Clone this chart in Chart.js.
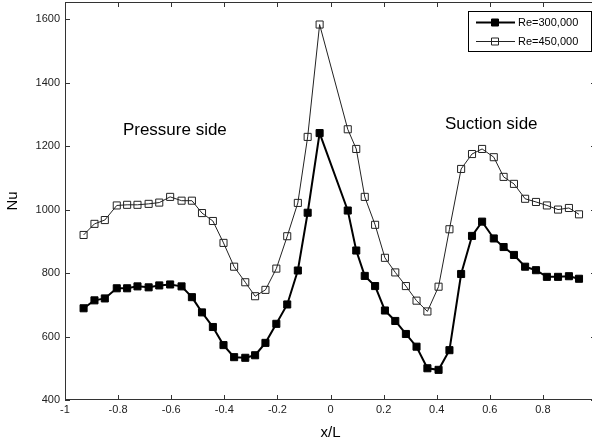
<!DOCTYPE html>
<html>
<head>
<meta charset="utf-8">
<script src="https://cdn.jsdelivr.net/npm/chart.js@4.4.1/dist/chart.umd.min.js"></script>
<style>
  html, body { margin: 0; padding: 0; background: #fff; overflow: hidden; }
  #wrap { width: 600px; height: 443px; }
</style>
</head>
<body>
<div id="wrap"><canvas id="c" width="600" height="443"></canvas></div>
<script>
//x/L positions of the measurement stations (shared by both runs)
const xPos = [-0.930, -0.889, -0.850, -0.805, -0.766, -0.727, -0.685, -0.645, -0.604, -0.561,
    -0.522, -0.484, -0.443, -0.403, -0.363, -0.321, -0.284, -0.245, -0.204, -0.163,
    -0.123, -0.086, -0.041, 0.065, 0.097, 0.129, 0.168, 0.205, 0.244, 0.284,
    0.324, 0.365, 0.407, 0.448, 0.492, 0.533, 0.571, 0.615, 0.652, 0.691,
    0.733, 0.774, 0.815, 0.857, 0.898, 0.936]
const nu300 = [689, 714, 720, 752, 752, 758, 755, 761, 764, 758,
    724, 676, 630, 573, 535, 533, 541, 580, 640, 701,
    808, 990, 1241, 997, 871, 791, 759, 682, 649, 608,
    568, 500, 495, 557, 797, 917, 962, 909, 882, 857,
    820, 809, 788, 788, 790, 782]
const nu450 = [920, 955, 967, 1013, 1015, 1015, 1018, 1022, 1040, 1028,
    1028, 989, 964, 895, 820, 771, 727, 747, 814, 916,
    1021, 1229, 1583, 1253, 1191, 1040, 952, 848, 802, 759,
    713, 679, 757, 938, 1128, 1175, 1191, 1165, 1103, 1081,
    1034, 1024, 1013, 1000, 1005, 985]
const seriesNames = ['Re=300,000', 'Re=450,000']
const xTicks = [-1, -0.8, -0.6, -0.4, -0.2, 0, 0.2, 0.4, 0.6, 0.8, 1]
const yTicks = [400, 600, 800, 1000, 1200, 1400, 1600]
const noteText = ['Pressure side', 'Suction side']
const noteX = [-0.782, 0.431]
const noteY = [1235, 1254]

const FONT = '"Liberation Sans", Arial, sans-serif'

const toPts = vals => vals.map((v, i) => ({x: xPos[i], y: v}))

//no extra room for edge tick labels: the frame sits where the reference has it
const noEdgePad = s => {
    s.paddingLeft = 0; s.paddingRight = 0; s.paddingTop = 0; s.paddingBottom = 0
}

//box, inward ticks, side notes and the legend, MATLAB style
const frame = {
    id: 'frame',
    afterDraw(chart) {
        const ctx = chart.ctx
        const a = chart.chartArea
        const xs = chart.scales.x, ys = chart.scales.y
        ctx.save()
        ctx.strokeStyle = '#333'
        ctx.lineWidth = 1
        ctx.strokeRect(a.left + 0.5, a.top + 0.5, a.right - a.left - 1, a.bottom - a.top - 1)
        ctx.beginPath()
        xTicks.forEach(t => {
            const px = Math.round(xs.getPixelForValue(t)) + 0.5
            ctx.moveTo(px, a.bottom); ctx.lineTo(px, a.bottom - 5)
            ctx.moveTo(px, a.top); ctx.lineTo(px, a.top + 5)
        })
        yTicks.forEach(t => {
            const py = Math.round(ys.getPixelForValue(t)) + 0.5
            ctx.moveTo(a.left, py); ctx.lineTo(a.left + 5, py)
            ctx.moveTo(a.right, py); ctx.lineTo(a.right - 5, py)
        })
        ctx.stroke()

        ctx.fillStyle = '#000'
        ctx.font = '17px ' + FONT
        ctx.textBaseline = 'alphabetic'
        ctx.textAlign = 'left'
        noteText.forEach((s, i) => {
            ctx.fillText(s, xs.getPixelForValue(noteX[i]), ys.getPixelForValue(noteY[i]))
        })

        //legend box
        const bx = 468.5, by = 11.5, bw = 123, bh = 40
        ctx.fillStyle = '#fff'
        ctx.fillRect(bx, by, bw, bh)
        ctx.strokeStyle = '#000'
        ctx.strokeRect(bx, by, bw, bh)
        const rows = [22, 41]
        chart.data.datasets.forEach((ds, i) => {
            const y = rows[i] + 0.5
            ctx.beginPath()
            ctx.strokeStyle = ds.borderColor
            ctx.lineWidth = ds.borderWidth
            ctx.moveTo(476, y); ctx.lineTo(515, y)
            ctx.stroke()
            ctx.lineWidth = 1
            ctx.beginPath()
            ctx.rect(491.5, y - 3.5, 7, 7)
            if (ds.pointBackgroundColor !== 'rgba(0,0,0,0)') {
                ctx.fillStyle = ds.pointBackgroundColor
                ctx.fill()
            }
            ctx.strokeStyle = ds.pointBorderColor
            ctx.stroke()
            ctx.fillStyle = '#000'
            ctx.font = '11px ' + FONT
            ctx.textBaseline = 'middle'
            ctx.fillText(ds.label, 518, y)
        })
        ctx.restore()
    }
}

new Chart(document.getElementById('c'), {
    type: 'line',
    data: {
        datasets: [
            {
                label: seriesNames[0],
                data: toPts(nu300),
                borderColor: '#000',
                borderWidth: 2,
                pointStyle: 'rect',
                pointRadius: 5,
                pointBackgroundColor: '#000',
                pointBorderColor: '#000',
                pointBorderWidth: 1,
                tension: 0
            },
            {
                label: seriesNames[1],
                data: toPts(nu450),
                borderColor: '#222',
                borderWidth: 1,
                pointStyle: 'rect',
                pointRadius: 5,
                pointBackgroundColor: 'rgba(0,0,0,0)',
                pointBorderColor: '#222',
                pointBorderWidth: 1,
                tension: 0
            }
        ]
    },
    options: {
        responsive: false,
        animation: false,
        events: [],
        layout: {autoPadding: false, padding: {left: 0, right: 4, top: 2, bottom: 0}},
        plugins: {legend: {display: false}, tooltip: {enabled: false}},
        scales: {
            x: {
                type: 'linear',
                min: -1,
                max: 1,
                afterBuildTicks: s => { s.ticks = xTicks.map(v => ({value: v})) },
                afterFit: s => { s.height = 43; noEdgePad(s) },
                grid: {display: false, drawTicks: false},
                border: {display: false},
                ticks: {
                    padding: 3,
                    color: '#222',
                    font: {family: FONT, size: 11},
                    maxRotation: 0,
                    autoSkip: false,
                    callback: v => String(v)
                },
                title: {display: true, text: 'x/L', color: '#000',
                    font: {family: FONT, size: 15}, padding: {top: 0, bottom: 1}}
            },
            y: {
                type: 'linear',
                min: 400,
                max: 1654,
                afterBuildTicks: s => { s.ticks = yTicks.map(v => ({value: v})) },
                afterFit: s => { s.width = 65; noEdgePad(s) },
                grid: {display: false, drawTicks: false},
                border: {display: false},
                ticks: {
                    padding: 5,
                    color: '#222',
                    font: {family: FONT, size: 11},
                    autoSkip: false,
                    callback: v => String(v)
                },
                title: {display: true, text: 'Nu', color: '#000',
                    font: {family: FONT, size: 15}, padding: {top: 4, bottom: 0}}
            }
        }
    },
    plugins: [frame]
})
</script>
</body>
</html>
